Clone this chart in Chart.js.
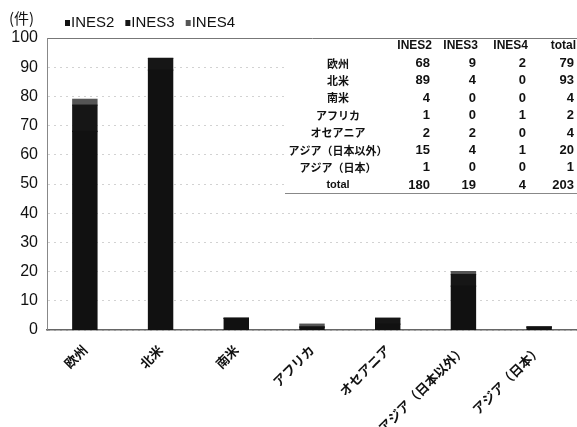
<!DOCTYPE html>
<html>
<head>
<meta charset="utf-8">
<script src="https://cdn.jsdelivr.net/npm/chart.js@4/dist/chart.umd.min.js"></script>
<style>
  html, body { margin: 0; padding: 0; background: #fff; }
  #wrap { width: 577px; height: 427px; position: relative; }
</style>
</head>
<body>
<div id="wrap"><canvas id="barChart"></canvas></div>
<script>
// regions (x axis)
var regions = ["欧州", "北米", "南米", "アフリカ", "オセアニア", "アジア（日本以外）", "アジア（日本）"];
// INES level counts per region
var ines2 = [68, 89, 4, 1, 2, 15, 1];
var ines3 = [9, 4, 0, 0, 2, 4, 0];
var ines4 = [2, 0, 0, 1, 0, 1, 0];
var seriesNames = ["INES2", "INES3", "INES4"];
var yTicks = [0, 10, 20, 30, 40, 50, 60, 70, 80, 90, 100];
var unitLabel = "(件)";

var seriesColors = ["#111111", "#161616", "#555555"];
var JP = "'Noto Sans CJK JP', 'Liberation Sans', sans-serif";

// legend, unit and the summary table are drawn by hand
var overlayPlugin = {
  id: "overlay",
  afterDraw: function (chart) {
    var ctx = chart.ctx;
    var area = chart.chartArea;
    ctx.save();

    // unit label
    ctx.fillStyle = "#111";
    ctx.font = "15px " + JP;
    ctx.textBaseline = "middle";
    ctx.textAlign = "left";
    ctx.fillText(unitLabel, 9, 18);

    // legend
    var lx = 65;
    ctx.font = "15px 'Liberation Sans', Arial, sans-serif";
    chart.data.datasets.forEach(function (ds) {
      ctx.fillStyle = ds.backgroundColor;
      ctx.fillRect(lx, 20, 5, 6);
      ctx.fillStyle = "#111";
      ctx.fillText(ds.label, lx + 6, 23);
      lx += ctx.measureText(ds.label).width + 17;
    });

    // summary table (white box over grid lines)
    var tLeft = 285, tTop = area.top + 1, tBottom = 193;
    ctx.fillStyle = "#fff";
    ctx.fillRect(tLeft, tTop, area.right - tLeft, tBottom - tTop);
    ctx.strokeStyle = "#888";
    ctx.lineWidth = 1;
    ctx.beginPath();
    ctx.moveTo(tLeft, tBottom + 0.5);
    ctx.lineTo(area.right, tBottom + 0.5);
    ctx.stroke();

    var colX = [430, 476, 526, 574];
    var labelX = 338;
    var rowY0 = 46, rowH = 17.4;
    ctx.fillStyle = "#111";
    ctx.textAlign = "right";
    ctx.font = "bold 12px 'Liberation Sans', Arial, sans-serif";
    seriesNames.concat(["total"]).forEach(function (h, i) {
      ctx.fillText(h, colX[i] + 2, rowY0);
    });

    var sums = [0, 0, 0, 0];
    var rows = regions.map(function (r, i) {
      var vals = [ines2[i], ines3[i], ines4[i]];
      vals.push(vals[0] + vals[1] + vals[2]);
      vals.forEach(function (v, k) { sums[k] += v; });
      return { label: r, vals: vals };
    });
    rows.push({ label: "total", vals: sums });

    rows.forEach(function (row, r) {
      var y = rowY0 + (r + 1) * rowH;
      ctx.textAlign = "center";
      ctx.font = row.label === "total"
        ? "bold 11px 'Liberation Sans', Arial, sans-serif"
        : "bold 11px " + JP;
      ctx.fillText(row.label, labelX, y);
      ctx.textAlign = "right";
      ctx.font = "bold 13px 'Liberation Sans', Arial, sans-serif";
      row.vals.forEach(function (v, k) {
        ctx.fillText(String(v), colX[k], y);
      });
    });

    ctx.restore();
  }
};

var ctx = document.getElementById("barChart").getContext("2d");
var barChart = new Chart(ctx, {
  type: "bar",
  data: {
    labels: regions,
    datasets: [
      { label: seriesNames[0], data: ines2, backgroundColor: seriesColors[0] },
      { label: seriesNames[1], data: ines3, backgroundColor: seriesColors[1] },
      { label: seriesNames[2], data: ines4, backgroundColor: seriesColors[2] }
    ]
  },
  options: {
    responsive: true,
    maintainAspectRatio: false,
    animation: false,
    devicePixelRatio: 1,
    layout: { padding: { top: 38, right: 0, left: 0, bottom: 0 } },
    datasets: {
      bar: { categoryPercentage: 1, barPercentage: 0.32, inflateAmount: 0.6 }
    },
    plugins: {
      legend: { display: false },
      tooltip: { enabled: false }
    },
    scales: {
      x: {
        stacked: true,
        grid: { display: false },
        border: { color: "#666", width: 1.5 },
        ticks: {
          color: "#111",
          font: { family: JP, size: 13, weight: "bold" },
          maxRotation: 45,
          minRotation: 45,
          autoSkip: false,
          padding: 4
        },
        afterFit: function (scale) { scale.height = 97; }
      },
      y: {
        stacked: true,
        min: 0,
        max: 100,
        afterBuildTicks: function (scale) {
          scale.ticks = yTicks.map(function (v) { return { value: v }; });
        },
        grid: {
          drawTicks: false,
          color: function (c) {
            if (c.tick && c.tick.value === 100) return "#777";
            return "#d2d2d2";
          },
          lineWidth: 1
        },
        border: {
          color: "#888",
          width: 1,
          dash: function (c) {
            if (c.tick && c.tick.value === 100) return [];
            return [2, 4];
          }
        },
        ticks: {
          color: "#111",
          font: { family: "'Liberation Sans', Arial, sans-serif", size: 16 },
          padding: 9
        },
        afterFit: function (scale) { scale.width = 47; }
      }
    }
  },
  plugins: [overlayPlugin]
});
</script>
</body>
</html>
